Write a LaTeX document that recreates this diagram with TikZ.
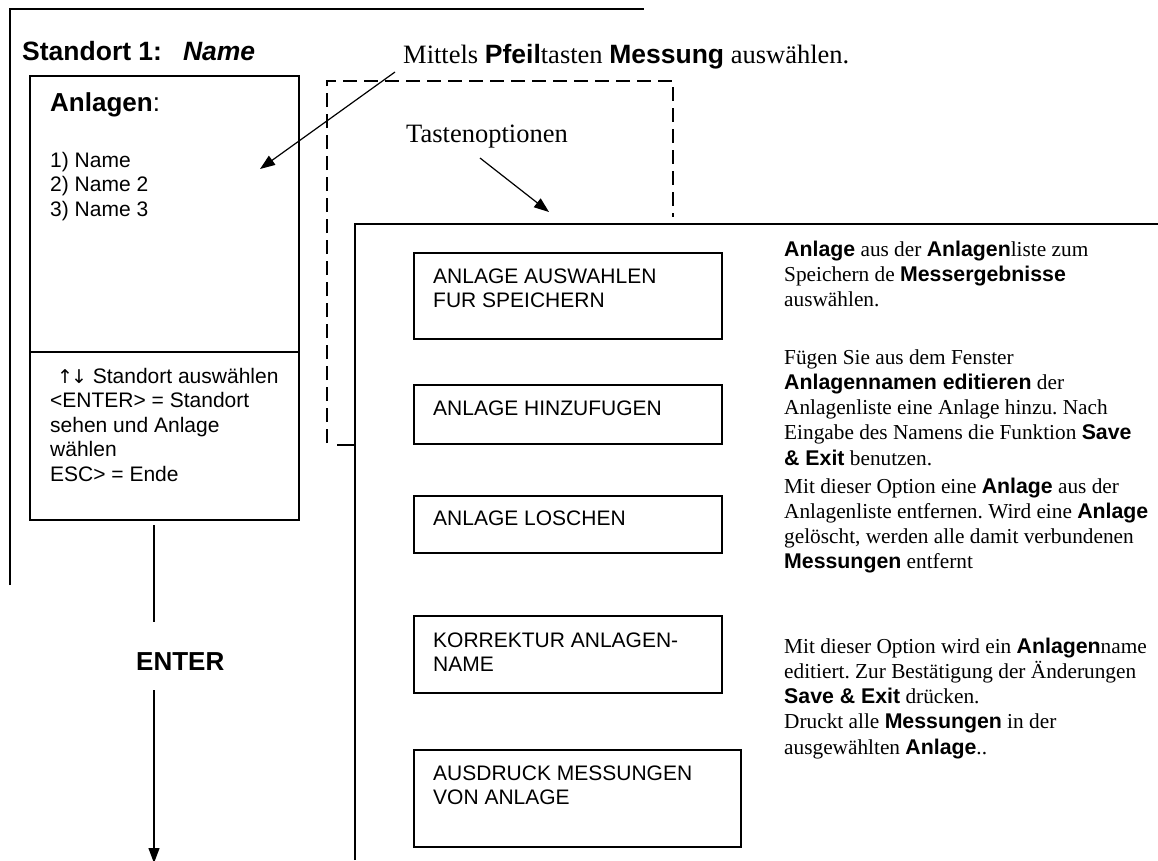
\documentclass[tikz,border=0pt]{standalone}
\usepackage{fontspec}
\setmainfont{Liberation Serif}
\setsansfont{Liberation Sans}
\newfontfamily\arrowfont{DejaVu Sans}
\usetikzlibrary{arrows.meta}
\frenchspacing

% bold sans words inside serif text
\newcommand\hv[1]{{\sffamily\bfseries #1}}

% every text node is placed by the baseline of its last line
\tikzset{
  frame/.style={line width=1.5pt},
  dashframe/.style={line width=1.5pt, dash pattern=on 14pt off 7pt},
  optbox/.style={draw, line width=1.5pt, inner sep=0pt, anchor=north west},
  conn/.style={line width=1.2pt},
  arr/.style={line width=1.2pt, -{Triangle[length=15pt,width=11pt]}},
  lbl/.style={inner sep=0pt, anchor=base west, align=left},
  sans/.style={lbl, font=\sffamily\fontsize{21}{24.5}\selectfont},
  serif/.style={lbl, font=\rmfamily\fontsize{21.3}{25.3}\selectfont},
  big/.style={lbl, font=\rmfamily\fontsize{26.5}{30}\selectfont},
}

\begin{document}
\begin{tikzpicture}[x=1pt,y=-1pt]
\useasboundingbox (0,0) rectangle (1158,860);

% outer frame of the site screen
\draw[frame] (10,585) -- (10,9) -- (644,9);
\node[lbl, font=\sffamily\bfseries\fontsize{26.5}{30}\selectfont] (site) at (22,60)
  {Standort 1:\hspace{21pt}\itshape Name};

% screen with list of plants
\node[optbox, minimum width=269pt, minimum height=444pt] (scr) at (29,75) {};
\draw[frame] (29,352) -- (298,352);
\node[lbl, font=\sffamily\fontsize{26}{30}\selectfont] (anl) at (50,111)
  {\textbf{Anlagen}:};
\node[sans] (list) at (50,216) {1) Name\\2) Name 2\\3) Name 3};
\node[sans] (keys) at (57,481)
  {{\arrowfont\fontsize{19}{24.5}\selectfont ↑\kern-2pt↓} Standort auswählen\\
   \hspace{-7pt}<ENTER> = Standort\\
   \hspace{-7pt}sehen und Anlage\\
   \hspace{-7pt}wählen\\
   \hspace{-7pt}ESC> = Ende};

% ENTER transition
\node[lbl, font=\sffamily\bfseries\fontsize{26}{30}\selectfont] (ent) at (136,670) {ENTER};
\coordinate (e1) at (154,525);
\coordinate (e2) at (154,622);
\coordinate (e3) at (154,690);
\coordinate (e4) at (154,863);
\draw[conn] (e1) -- (e2);
\draw[arr] (e3) -- (e4);

% hint: arrow keys
\node[big] (hint) at (403,63)
  {Mittels \hv{Pfeil}tasten \hv{Messung} auswählen.};
\coordinate (h1) at (395,72);
\coordinate (h2) at (260,169);
\draw[arr] (h1) -- (h2);

% dashed key options frame
\draw[dashframe] (327,443) -- (327,81) -- (673,81) -- (673,217);
\draw[frame] (337,445) -- (355,445);
\node[big] (tast) at (406,142) {Tastenoptionen};
\coordinate (t1) at (480,158);
\coordinate (t2) at (549,212);
\draw[arr] (t1) -- (t2);

% options panel
\draw[frame] (355,860) -- (355,224) -- (1158,224);

\node[optbox, minimum width=308pt, minimum height=86pt] (o1) at (413,252) {};
\node[sans] at (433,307.5) {ANLAGE AUSWAHLEN\\FUR SPEICHERN};

\node[optbox, minimum width=308pt, minimum height=59pt] (o2) at (413,384) {};
\node[sans] at (433,415) {ANLAGE HINZUFUGEN};

\node[optbox, minimum width=308pt, minimum height=57pt] (o3) at (413,495) {};
\node[sans] at (433,525) {ANLAGE LOSCHEN};

\node[optbox, minimum width=308pt, minimum height=77pt] (o4) at (413,615) {};
\node[sans] at (433,671.5) {KORREKTUR ANLAGEN-\\NAME};

\node[optbox, minimum width=327pt, minimum height=97pt] (o5) at (413,749) {};
\node[sans] at (433,804.5) {AUSDRUCK MESSUNGEN\\VON ANLAGE};

% option descriptions
\node[serif] (d1) at (784,306.6)
  {\hv{Anlage} aus der \hv{Anlagen}liste zum\\
   Speichern de \hv{Messergebnisse}\\
   auswählen.};
\node[serif] (d2) at (784,465.2)
  {Fügen Sie aus dem Fenster\\
   \hv{Anlagennamen editieren} der\\
   Anlagenliste eine Anlage hinzu. Nach\\
   Eingabe des Namens die Funktion \hv{Save}\\
   \hv{\& Exit} benutzen.};
\node[serif] (d3) at (784,568.9)
  {Mit dieser Option eine \hv{Anlage} aus der\\
   Anlagenliste entfernen. Wird eine \hv{Anlage}\\
   gelöscht, werden alle damit verbundenen\\
   \hv{Messungen} entfernt};
\node[serif] (d4) at (784,754.2)
  {Mit dieser Option wird ein \hv{Anlagen}name\\
   editiert. Zur Bestätigung der Änderungen\\
   \hv{Save \& Exit} drücken.\\
   Druckt alle \hv{Messungen} in der\\
   ausgewählten \hv{Anlage}..};
\end{tikzpicture}
\end{document}
